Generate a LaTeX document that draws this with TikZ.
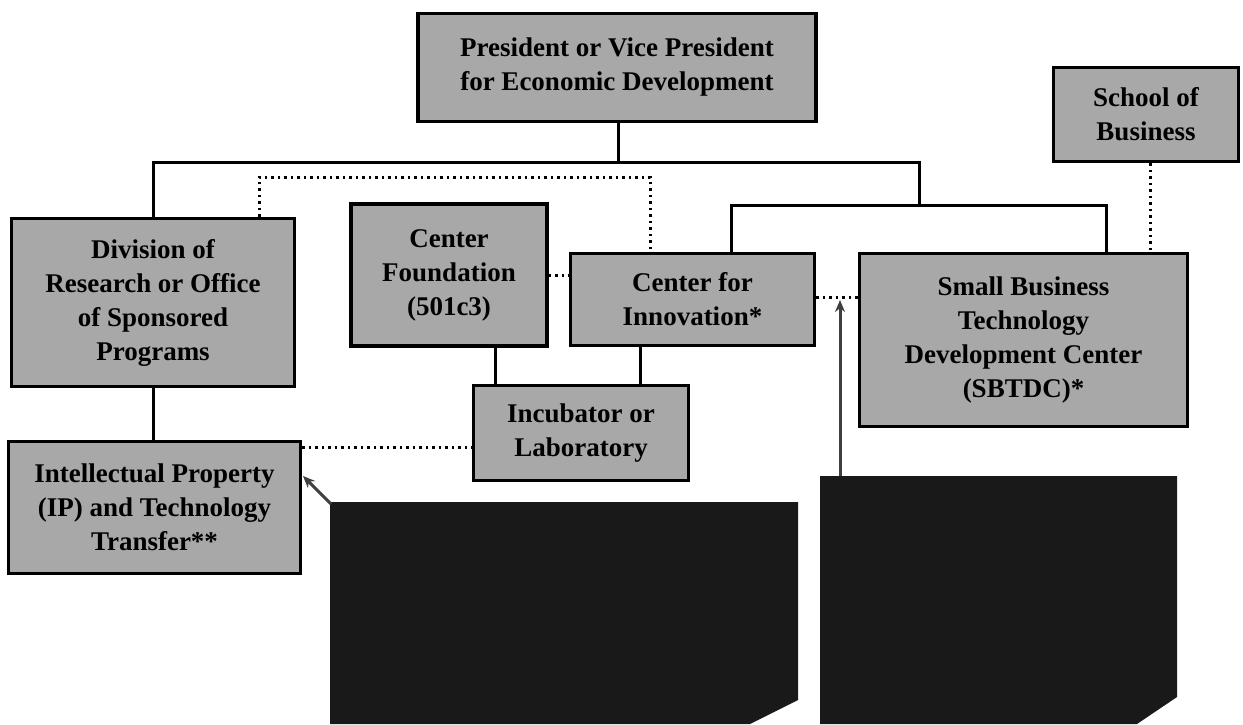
\documentclass[tikz,border=0pt]{standalone}
\usepackage{fontspec}
\setmainfont{Liberation Serif}
\usetikzlibrary{arrows.meta}
\definecolor{boxgray}{gray}{0.66}
\definecolor{calloutgray}{gray}{0.1}
\tikzset{
  box/.style={draw=black, line width=3.5pt, fill=boxgray, align=center, inner sep=0pt,
    font=\fontsize{27}{34}\selectfont\bfseries, text=black},
  conn/.style={line width=3pt, draw=black},
  dotline/.style={line width=3pt, dash pattern=on 2.5pt off 4pt, draw=black},
  callout/.style={fill=calloutgray, draw=none},
  ptr/.style={line width=3pt, draw=black!75, -{Stealth[length=12pt,width=10pt]}}
}
\begin{document}
\begin{tikzpicture}[x=1pt,y=-1pt]
\fill[white] (0,0) rectangle (1243,724);
\useasboundingbox (0,0) rectangle (1243,724);

% boxes
\node[box, minimum width=398pt, minimum height=108pt] (top) at (617,67.5)
  {President or Vice President\\for Economic Development};
\node[box, minimum width=185pt, minimum height=94pt] (school) at (1146,114.5)
  {School of\\Business};
\node[box, minimum width=283pt, minimum height=168pt] (div) at (153,302.5)
  {Division of\\Research or Office\\of Sponsored\\Programs};
\node[box, minimum width=196pt, minimum height=142pt] (cf) at (449,275)
  {Center\\Foundation\\(501c3)};
\node[box, minimum width=244pt, minimum height=92pt] (cfi) at (692.5,299.5)
  {Center for\\Innovation*};
\node[box, minimum width=328pt, minimum height=173pt] (sbtdc) at (1023.5,340)
  {Small Business\\Technology\\Development Center\\(SBTDC)*};
\node[box, minimum width=215pt, minimum height=95pt] (inc) at (581,433)
  {Incubator or\\Laboratory};
\node[box, minimum width=292pt, minimum height=132pt] (ip) at (154.5,507.5)
  {Intellectual Property\\(IP) and Technology\\Transfer**};

% solid connectors
\coordinate (j1) at (618,162);
\coordinate (j2) at (919,205);
\coordinate (j3) at (731,205);
\coordinate (j4) at (1106,205);
\coordinate (k1) at (495,0);
\coordinate (k2) at (640,0);
\draw[conn] (top.south -| j1) -- (j1);
\draw[conn] (div.north) |- (j1) -| (j2);
\draw[conn] (j3 |- cfi.north) -- (j3) -- (j4) -- (j4 |- sbtdc.north);
\draw[conn] (div.south) -- (ip.north -| div.south);
\draw[conn] (k1 |- cf.south) -- (k1 |- inc.north);
\draw[conn] (k2 |- cfi.south) -- (k2 |- inc.north);

% dotted connectors
\coordinate (d1) at (259,177);
\coordinate (d2) at (650,177);
\coordinate (d3) at (1150,0);
\coordinate (d4) at (0,447);
\coordinate (d5) at (0,297);
\draw[dotline] (d1 |- div.north) -- (d1) -- (d2) -- (d2 |- cfi.north);
\draw[dotline] (cf.east) -- (cf.east -| cfi.west);
\draw[dotline] (cfi.east |- d5) -- (sbtdc.west |- d5);
\draw[dotline] (d3 |- school.south) -- (d3 |- sbtdc.north);
\draw[dotline] (ip.east |- d4) -- (inc.west |- d4);

% callouts
\fill[callout] (330,502) -- (798,502) -- (798,700) -- (750,724) -- (330,724) -- cycle;
\fill[callout] (820,476) -- (1177,476) -- (1177,697) -- (1137,724) -- (820,724) -- cycle;
\coordinate (c1) at (331,504);
\coordinate (c2) at (840,476);
\coordinate (a1) at (303,476);
\coordinate (a2) at (840,300);
\draw[ptr] (c1) -- (a1);
\draw[ptr] (c2) -- (a2);
\end{tikzpicture}
\end{document}
